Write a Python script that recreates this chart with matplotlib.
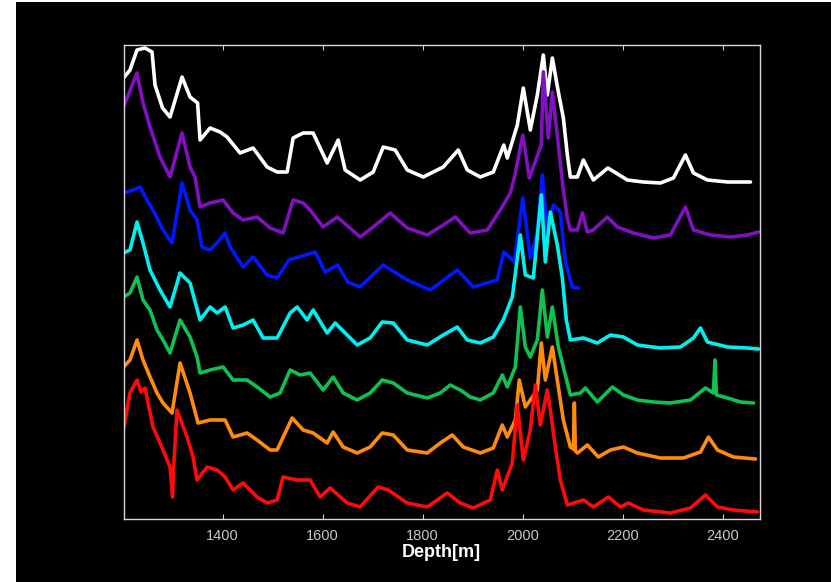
import matplotlib
matplotlib.use("Agg")
import matplotlib.pyplot as plt
from matplotlib.patches import Rectangle

# ---- data (depth in m, amplitude in arbitrary stacked units) ----
white_depth = [1202, 1215, 1229, 1245, 1259, 1265, 1280, 1295, 1319, 1335, 1350, 1355, 1375, 1395,
               1409, 1435, 1461, 1489, 1509, 1529, 1541, 1561, 1581, 1609, 1631, 1645, 1675, 1701,
               1721, 1745, 1769, 1801, 1841, 1871, 1889, 1915, 1941, 1962, 1969, 1989, 2001, 2015,
               2029, 2041, 2049, 2059, 2071, 2081, 2089, 2095, 2109, 2121, 2141, 2170, 2209, 2241,
               2275, 2301, 2325, 2341, 2369, 2409, 2455]
white_vals = [441, 449, 469, 471, 467, 434, 411, 402, 442, 422, 416, 379, 391, 387,
              382, 366, 371, 352, 347, 347, 381, 386, 386, 356, 379, 349, 339, 347,
              372, 369, 349, 342, 352, 369, 349, 342, 347, 374, 361, 394, 431, 389,
              424, 464, 424, 461, 427, 401, 364, 342, 342, 359, 339, 351, 339, 337,
              336, 341, 364, 346, 339, 337, 337]

purple_depth = [1202, 1229, 1241, 1255, 1275, 1295, 1319, 1335, 1345, 1355, 1375, 1401, 1421, 1441,
                1469, 1495, 1521, 1541, 1561, 1575, 1601, 1629, 1675, 1701, 1735, 1769, 1809, 1841,
                1865, 1895, 1929, 1955, 1975, 1983, 2000, 2013, 2037, 2041, 2051, 2059, 2071, 2081,
                2089, 2095, 2109, 2119, 2129, 2141, 2169, 2189, 2221, 2261, 2295, 2325, 2341, 2375,
                2415, 2449, 2471]
purple_vals = [412, 446, 416, 392, 362, 342, 386, 352, 342, 312, 316, 319, 306, 299,
               302, 291, 286, 319, 316, 309, 292, 302, 282, 292, 306, 291, 284, 294,
               302, 286, 289, 309, 326, 341, 384, 341, 374, 447, 381, 427, 374, 329,
               301, 289, 289, 306, 287, 289, 302, 292, 286, 281, 284, 312, 289, 284,
               282, 284, 287]

blue_depth = [1202, 1221, 1235, 1249, 1261, 1281, 1299, 1319, 1335, 1349, 1359, 1375, 1389, 1405,
              1415, 1441, 1461, 1489, 1509, 1533, 1559, 1585, 1605, 1630, 1650, 1675, 1721, 1769,
              1815, 1869, 1901, 1949, 1962, 1983, 2000, 2015, 2029, 2039, 2049, 2061, 2075, 2085,
              2099, 2112]
blue_vals = [326, 329, 332, 319, 309, 289, 276, 336, 309, 299, 272, 269, 276, 286,
             272, 252, 262, 244, 241, 259, 263, 267, 247, 254, 237, 232, 254, 239,
             229, 249, 232, 239, 267, 257, 321, 261, 287, 344, 287, 314, 307, 257,
             232, 231]

cyan_depth = [1202, 1215, 1229, 1241, 1255, 1275, 1295, 1315, 1335, 1355, 1375, 1389, 1405, 1421,
              1441, 1461, 1481, 1509, 1535, 1549, 1569, 1581, 1609, 1625, 1669, 1695, 1719, 1741,
              1769, 1809, 1841, 1869, 1889, 1915, 1941, 1961, 1979, 1995, 2005, 2021, 2037, 2045,
              2055, 2069, 2079, 2087, 2095, 2121, 2149, 2175, 2201, 2229, 2275, 2315, 2341, 2355,
              2369, 2409, 2449, 2471]
cyan_vals = [266, 269, 297, 276, 249, 229, 212, 246, 236, 199, 212, 206, 212, 191,
             194, 199, 181, 181, 206, 212, 199, 209, 186, 196, 174, 181, 197, 196,
             179, 174, 184, 192, 179, 176, 182, 199, 222, 284, 244, 241, 324, 257,
             307, 274, 241, 199, 179, 181, 176, 184, 182, 174, 171, 172, 181, 191,
             177, 172, 171, 170]

green_depth = [1202, 1215, 1229, 1241, 1255, 1269, 1281, 1295, 1315, 1335, 1349, 1355, 1375, 1401,
               1421, 1449, 1469, 1495, 1515, 1535, 1555, 1575, 1601, 1621, 1641, 1669, 1695, 1719,
               1741, 1769, 1809, 1835, 1855, 1875, 1895, 1915, 1941, 1959, 1969, 1985, 1995, 2005,
               2015, 2029, 2039, 2049, 2059, 2071, 2081, 2095, 2115, 2125, 2149, 2179, 2201, 2229,
               2261, 2295, 2335, 2365, 2381, 2384, 2387, 2409, 2435, 2461]
green_vals = [222, 226, 242, 219, 209, 189, 179, 166, 199, 182, 162, 146, 149, 152,
              139, 139, 132, 122, 126, 149, 144, 146, 129, 142, 126, 119, 126, 139,
              136, 126, 121, 126, 134, 129, 122, 119, 126, 144, 132, 152, 212, 172,
              162, 179, 229, 182, 212, 172, 152, 124, 126, 131, 117, 132, 124, 119,
              117, 116, 119, 131, 126, 159, 124, 121, 117, 116]

orange_depth = [1202, 1215, 1229, 1241, 1255, 1269, 1281, 1299, 1315, 1335, 1351, 1375, 1405, 1421,
                1449, 1469, 1495, 1509, 1539, 1561, 1581, 1609, 1621, 1641, 1669, 1695, 1719, 1741,
                1769, 1809, 1835, 1859, 1881, 1915, 1941, 1959, 1969, 1985, 1993, 2005, 2015, 2029,
                2037, 2045, 2059, 2071, 2081, 2095, 2101, 2103, 2105, 2109, 2129, 2151, 2175, 2201,
                2229, 2275, 2321, 2355, 2371, 2389, 2421, 2465]
orange_vals = [152, 159, 179, 159, 142, 126, 116, 106, 156, 126, 96, 99, 99, 82,
               86, 79, 69, 69, 101, 89, 86, 76, 87, 72, 66, 72, 86, 84,
               69, 66, 76, 84, 72, 66, 71, 94, 82, 99, 139, 112, 119, 129,
               176, 139, 172, 132, 99, 72, 70, 116, 68, 66, 74, 62, 69, 72,
               66, 61, 61, 67, 82, 69, 62, 60]

red_depth = [1202, 1215, 1229, 1237, 1245, 1261, 1281, 1295, 1300, 1303, 1309, 1329, 1341, 1349,
             1369, 1389, 1405, 1421, 1441, 1469, 1489, 1509, 1521, 1549, 1575, 1595, 1615, 1649,
             1675, 1711, 1731, 1769, 1809, 1849, 1875, 1901, 1935, 1949, 1959, 1979, 1989, 2001,
             2015, 2025, 2035, 2049, 2055, 2065, 2075, 2089, 2121, 2141, 2171, 2195, 2211, 2241,
             2295, 2335, 2365, 2389, 2421, 2469]
red_vals = [89, 126, 139, 127, 131, 92, 69, 52, 22, 59, 109, 82, 62, 39,
            52, 49, 42, 29, 36, 22, 16, 19, 42, 39, 39, 22, 31, 16,
            12, 32, 29, 16, 12, 26, 16, 11, 19, 49, 29, 56, 114, 59,
            89, 134, 94, 129, 109, 72, 39, 14, 19, 12, 22, 12, 16, 9,
            6, 11, 24, 12, 9, 7]

traces = [
    (white_depth, white_vals, "#ffffff"),
    (purple_depth, purple_vals, "#8010c0"),
    (blue_depth, blue_vals, "#0018ff"),
    (cyan_depth, cyan_vals, "#00f0f0"),
    (green_depth, green_vals, "#10c050"),
    (orange_depth, orange_vals, "#ff8a10"),
    (red_depth, red_vals, "#ff0a0a"),
]

x_ticks = [1400, 1600, 1800, 2000, 2200, 2400]
x_label = "Depth[m]"

# ---- figure ----
fig = plt.figure(figsize=(8.31, 5.82), dpi=100, facecolor="black")
fig.patches.append(Rectangle((0, 0), 16 / 831, 1, transform=fig.transFigure,
                             facecolor="white", edgecolor="none", zorder=-5))
fig.patches.append(Rectangle((0, 1 - 1.5 / 582), 1, 1.5 / 582, transform=fig.transFigure,
                             facecolor="white", edgecolor="none", zorder=-5))

ax = fig.add_axes([123.5 / 831, (582 - 519) / 582, 636 / 831, 474 / 582])
ax.set_facecolor("black")

for d, v, c in traces:
    ax.plot(d, v, color=c, lw=2.6, solid_joinstyle="round", solid_capstyle="round")

ax.set_xlim(1202, 2473)
ax.set_ylim(0, 474)
ax.set_xticks(x_ticks)
ax.set_xticklabels([str(t) for t in x_ticks], family="Liberation Sans", fontsize=10.5,
                   color="#c8c8c8")
ax.set_yticks([])
ax.tick_params(axis="x", direction="in", top=True, length=3.5, width=0.8,
               color="#d0d0d0", pad=7)
for s in ax.spines.values():
    s.set_color("#d8d8d8")
    s.set_linewidth(1.0)
    s.set_zorder(5)

ax.set_xlabel(x_label, family="Liberation Sans", fontsize=13, fontweight="bold",
              color="white", labelpad=1)

fig.savefig("out.png", dpi=100, facecolor=fig.get_facecolor())
